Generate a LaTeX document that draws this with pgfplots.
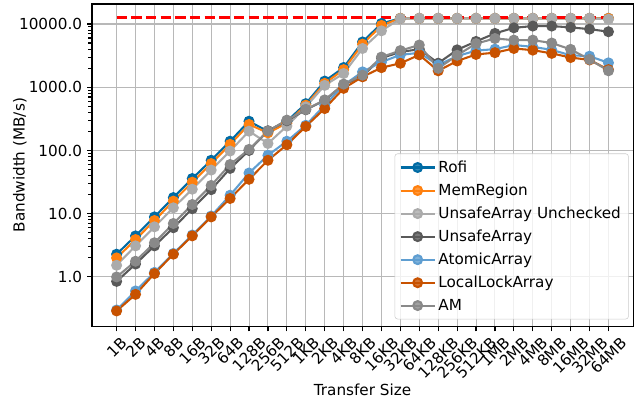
\documentclass[border=0pt]{standalone}
\usepackage{pgfplots}
\pgfplotsset{compat=1.18}
\usepackage{pgfplotstable}
\usepackage{graphicx}
\usepackage{fontspec}
\setmainfont{DejaVu Sans}
\definecolor{cRofi}{HTML}{006BA4}
\definecolor{cMem}{HTML}{FF800E}
\definecolor{cUnch}{HTML}{ABABAB}
\definecolor{cUns}{HTML}{595959}
\definecolor{cAtom}{HTML}{5F9ED1}
\definecolor{cLL}{HTML}{C85200}
\definecolor{cAM}{HTML}{898989}
\definecolor{gridc}{HTML}{B8B8B8}
\pgfplotstableread{
x Rofi Mem Unch Uns Atom LL AM
0 2.29 2.0 1.53 0.85 0.30 0.29 1.0
1 4.46 3.9 3.1 1.6 0.60 0.53 1.77
2 8.9 7.8 6.2 3.1 1.18 1.13 3.47
3 18.0 15.8 12.4 6.0 2.35 2.29 7.0
4 36 31.5 24.4 12.0 4.6 4.46 14
5 70 62 49 24 9.2 8.9 28
6 140 125 98 52 19.6 17.4 60
7 290 258 202 100 44 35 104
8 200 190 129 205 84 70 203
9 290 270 243 295 140 123 302
10 550 520 490 440 250 240 445
11 1250 1150 1070 620 520 460 630
12 2050 1900 1650 1100 1080 960 1120
13 5200 4800 4100 1500 1750 1460 1550
14 10200 9500 7800 2900 2500 2040 3000
15 12300 12300 12200 3600 3250 2390 3800
16 12300 12300 12300 4000 3500 3250 4650
17 12300 12300 12300 2400 2250 1820 1990
18 12300 12300 12300 3900 3100 2600 3200
19 12300 12300 12300 5300 3800 3300 4900
20 12300 12300 12300 7100 4000 3520 5900
21 12300 12300 12300 8700 4650 4100 5560
22 12300 12300 12300 9270 4350 3860 5560
23 12300 12300 12300 9270 3900 3430 5000
24 12300 12300 12300 8830 3200 2950 3970
25 12300 12300 12300 8300 3100 2700 2750
26 12300 12300 11900 7550 2430 1900 1820
}\datatable
\pgfplotstableread{
x y
0 12500
26 12500
}\peak
\begin{document}
\begin{tikzpicture}
\begin{axis}[
  name=ax,
  scale only axis,
  width=391pt, height=233pt,
  ymode=log,
  xmin=-1.3, xmax=27.3,
  ymin=0.165, ymax=20700,
  xtick={0,...,26},
  xticklabels={\rotatebox{45}{1B},\rotatebox{45}{2B},\rotatebox{45}{4B},\rotatebox{45}{8B},\rotatebox{45}{16B},\rotatebox{45}{32B},\rotatebox{45}{64B},\rotatebox{45}{128B},\rotatebox{45}{256B},\rotatebox{45}{512B},\rotatebox{45}{1KB},\rotatebox{45}{2KB},\rotatebox{45}{4KB},\rotatebox{45}{8KB},\rotatebox{45}{16KB},\rotatebox{45}{32KB},\rotatebox{45}{64KB},\rotatebox{45}{128KB},\rotatebox{45}{256KB},\rotatebox{45}{512KB},\rotatebox{45}{1MB},\rotatebox{45}{2MB},\rotatebox{45}{4MB},\rotatebox{45}{8MB},\rotatebox{45}{16MB},\rotatebox{45}{32MB},\rotatebox{45}{64MB}},
  ytick={1,10,100,1000,10000},
  yticklabels={1.0,10.0,100.0,1000.0,10000.0},
  minor ytick={},
  /pgf/number format/assume math mode=true,
  tick align=outside,
  major tick length=3.5pt,
  tick style={black, line width=0.8pt},
  xtick pos=bottom, ytick pos=left,
  xticklabel style={anchor=north, inner sep=0pt, yshift=-3.5pt, font=\fontsize{11}{13}\selectfont},
  yticklabel style={anchor=east, inner sep=0pt, xshift=-3.5pt, font=\fontsize{11}{13}\selectfont},
  grid=major,
  major grid style={gridc, line width=0.75pt},
  axis line style={line width=0.8pt},
  xlabel={Transfer Size},
  ylabel={Bandwidth (MB/s)},
  ylabel shift=-9pt,
  label style={font=\fontsize{11}{13}\selectfont},
  legend cell align=left,
  legend style={at={(0.992,0.022)}, anchor=south east, draw=black!20, rounded corners=2pt,
    fill=white, fill opacity=0.8, text opacity=1, font=\fontsize{11}{13}\selectfont,
    row sep=2.8pt, inner xsep=3.5pt, inner ysep=3pt},
  legend image code/.code={\draw[mark repeat=2,mark phase=2] plot coordinates {(0cm,0cm) (0.43cm,0cm) (0.86cm,0cm)};},
  every axis plot/.append style={line width=1.5pt, mark=*, mark size=3.2pt},
]
\addplot[color=cRofi] table[x=x,y=Rofi]{\datatable};
\addlegendentry{Rofi}
\addplot[color=cMem] table[x=x,y=Mem]{\datatable};
\addlegendentry{MemRegion}
\addplot[color=cUnch] table[x=x,y=Unch]{\datatable};
\addlegendentry{UnsafeArray Unchecked}
\addplot[color=cUns] table[x=x,y=Uns]{\datatable};
\addlegendentry{UnsafeArray}
\addplot[color=cAtom] table[x=x,y=Atom]{\datatable};
\addlegendentry{AtomicArray}
\addplot[color=cLL] table[x=x,y=LL]{\datatable};
\addlegendentry{LocalLockArray}
\addplot[color=cAM] table[x=x,y=AM]{\datatable};
\addlegendentry{AM}
\addplot[red, line width=2pt, mark=none, dash pattern=on 7.4pt off 3.2pt, forget plot] table[x=x,y=y]{\peak};
\end{axis}
\pgfresetboundingbox
\path ([shift={(-66.5pt,-54.2pt)}]ax.south west) rectangle ([shift={(4.3pt,2.9pt)}]ax.north east);
\end{tikzpicture}
\end{document}
